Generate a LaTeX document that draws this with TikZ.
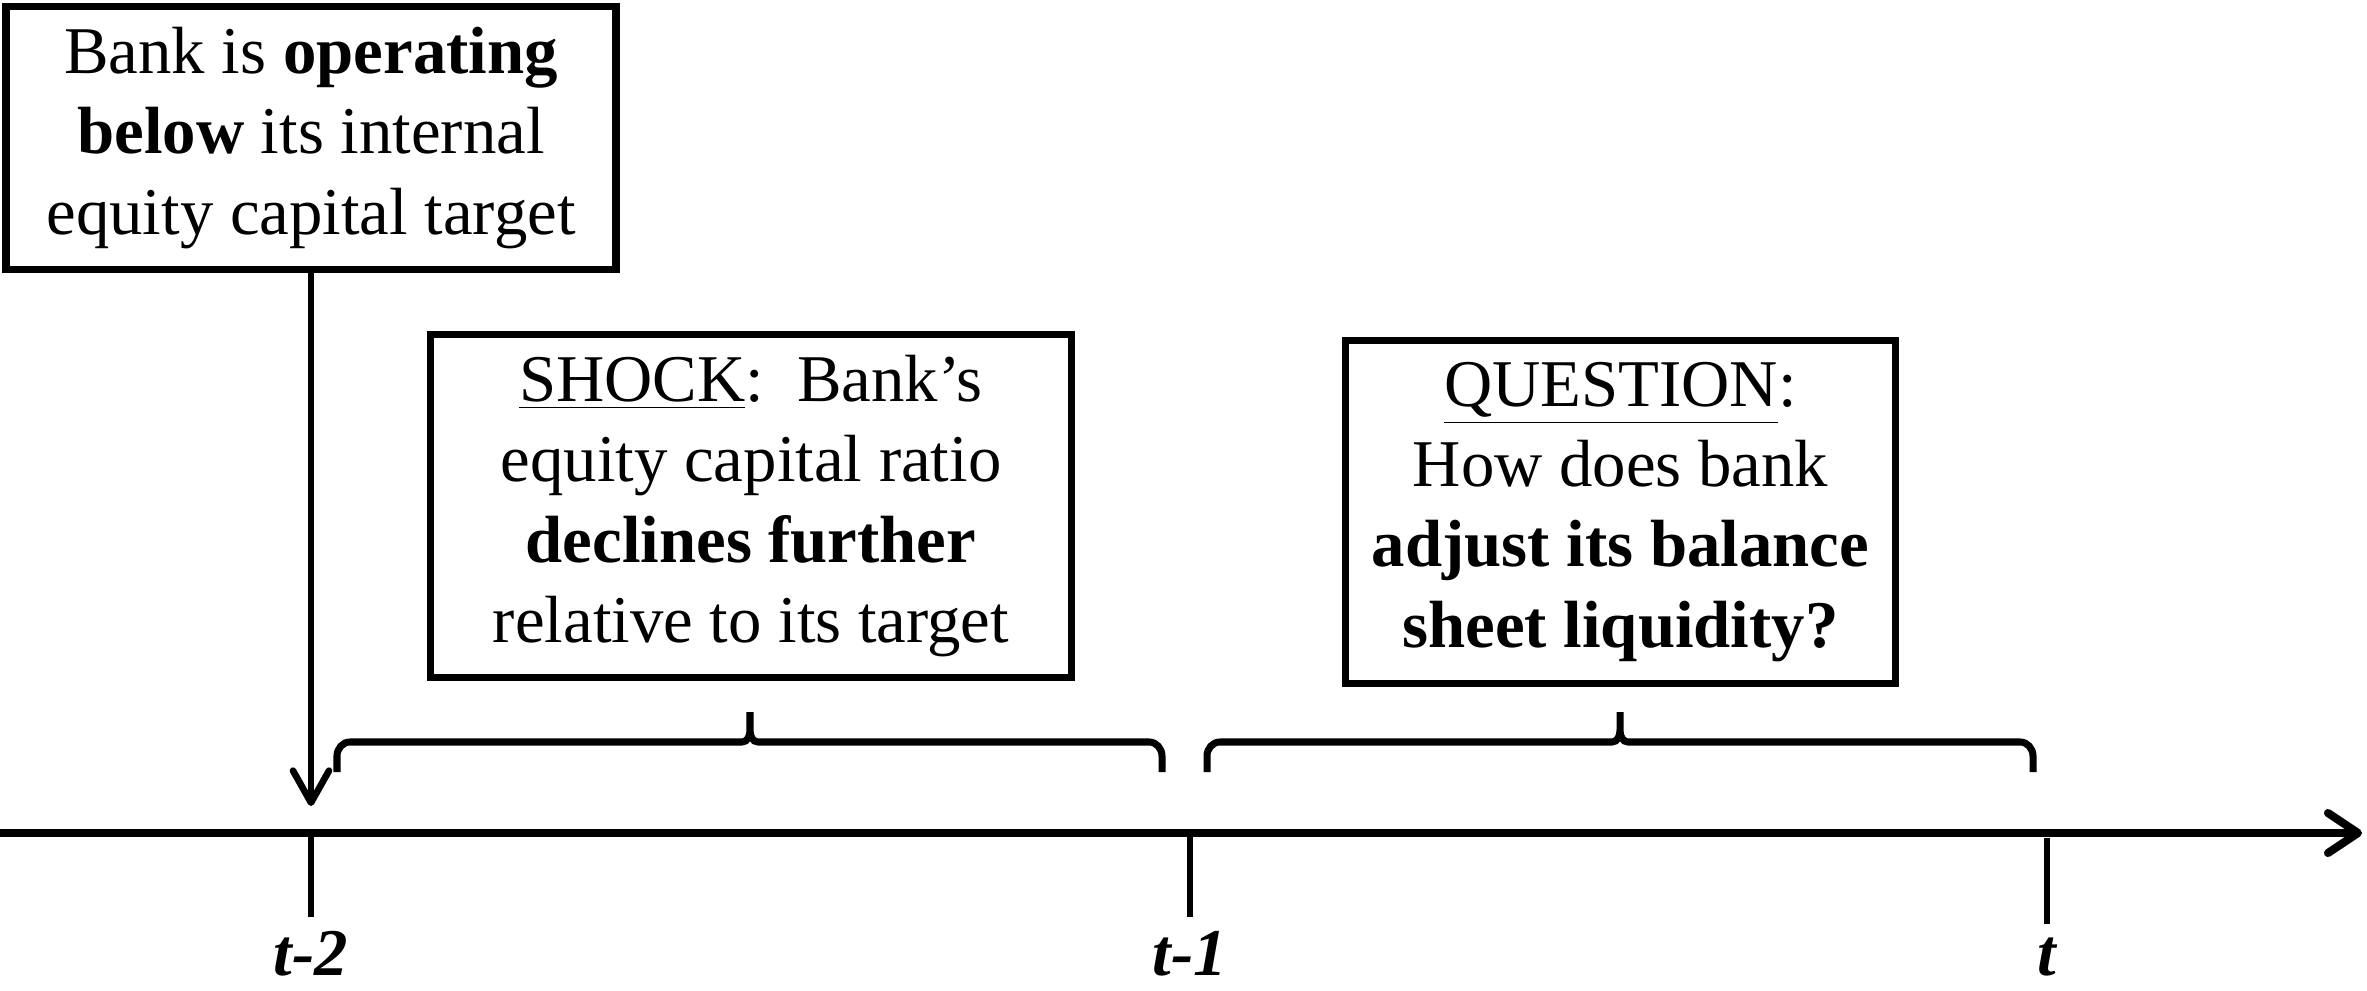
\documentclass[tikz,border=0pt]{standalone}
\usepackage{fontspec}
\setmainfont{Liberation Serif}
\usetikzlibrary{arrows.meta,positioning}

\begin{document}
\begin{tikzpicture}[
    box/.style={draw, line width=2.2pt, align=center, inner sep=0pt, font=\fontsize{19}{22.8}\selectfont},
    period/.style={font=\fontsize{19}{22.8}\selectfont\bfseries\itshape, inner sep=0pt},
    tickline/.style={line width=1.9pt},
    bracket/.style={line width=2pt},
  ]
  \useasboundingbox (0,0) rectangle (23.67,-9.90);

  % Boxes
  \node[box, minimum width=6.10cm, minimum height=2.63cm] (state) at (3.11,-1.38) {Bank is \textbf{operating}\\ \textbf{below} its internal\\ equity capital target};
  \node[box, minimum width=6.41cm, minimum height=3.43cm] (shock) at (7.51,-5.06) {\underline{SHOCK}:\ \ Bank’s\\ equity capital ratio\\ \textbf{declines further}\\ relative to its target};
  \node[box, minimum width=5.50cm, minimum height=3.43cm] (question) at (16.205,-5.12) {\underline{QUESTION}:\\ How does bank\\ \textbf{adjust its balance}\\ \textbf{sheet liquidity?}};

  % Time axis
  \coordinate (axisL) at (0,-8.33);
  \coordinate (axisR) at (23.62,-8.33);
  \draw[line width=2.3pt, -{Straight Barb[length=0.3cm,width=0.4cm,round]}] (axisL) -- (axisR);

  % Periods
  \coordinate (t2) at (3.11,-8.33);
  \coordinate (t1) at (11.90,-8.33);
  \coordinate (t0) at (20.47,-8.38);
  \draw[tickline] (t2) -- ++(0,-0.84) coordinate (t2end);
  \draw[tickline] (t1) -- ++(0,-0.84) coordinate (t1end);
  \draw[tickline] (t0) -- ++(0,-0.86) coordinate (t0end);
  \node[period, below=0.14cm of t2end] (lbl2) {t-2};
  \node[period, below=0.14cm of t1end] (lbl1) {t-1};
  \node[period, anchor=base] (lbl0) at (lbl1.base -| t0) {t};

  % Arrow to t-2
  \coordinate (hit) at (3.11,-8.06);
  \draw[line width=1.9pt, -{Straight Barb[length=0.32cm,width=0.36cm,round]}] (state) -- (hit);

  % Braces
  \draw[bracket] (3.37,-7.72) -- (3.37,-7.56) to[out=90,in=180] (3.50,-7.42) -- (7.42,-7.42) to[out=0,in=-90] (7.50,-7.30) -- (7.50,-7.12)
                 (7.50,-7.30) to[out=-90,in=180] (7.58,-7.42) -- (11.49,-7.42) to[out=0,in=90] (11.62,-7.56) -- (11.62,-7.72);
  \draw[bracket] (12.07,-7.72) -- (12.07,-7.56) to[out=90,in=180] (12.20,-7.42) -- (16.12,-7.42) to[out=0,in=-90] (16.20,-7.30) -- (16.20,-7.12)
                 (16.20,-7.30) to[out=-90,in=180] (16.28,-7.42) -- (20.20,-7.42) to[out=0,in=90] (20.33,-7.56) -- (20.33,-7.72);
\end{tikzpicture}
\end{document}
